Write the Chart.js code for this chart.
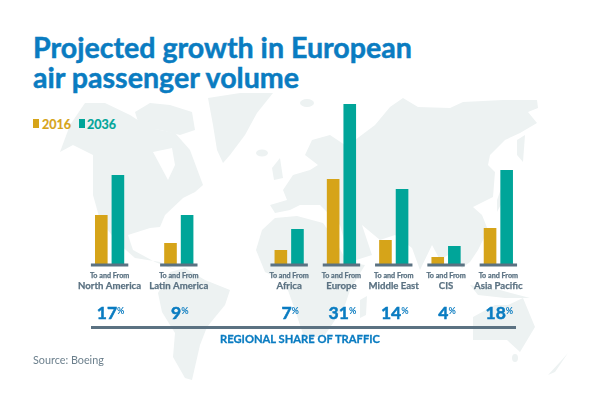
<!DOCTYPE html>
<html>
<head>
<meta charset="utf-8">
<script src="https://cdn.jsdelivr.net/npm/chart.js@4"></script>
<style>
body { margin: 0; background: #fff; font-family: Lato, sans-serif; }
#page { position: relative; width: 600px; height: 400px; overflow: hidden; }
#page > * { position: absolute; }
#map { left: 0; top: 0; }
#title { left: 33px; top: 32px; color: #0a7cc1; font-size: 28.6px; line-height: 30px; font-weight: 700; white-space: nowrap; -webkit-text-stroke: 0.5px #0a7cc1; }
.key { top: 117px; font-size: 12.5px; line-height: 16px; font-weight: 700; -webkit-text-stroke: 0.2px; }
.swatch { top: 119px; width: 6px; height: 9px; }
#source { left: 33px; top: 353px; font-size: 10.8px; line-height: 13px; color: #6b7f8c; }
#share { left: 91px; width: 425px; top: 326px; height: 3px; background: #5b7282; }
#shareLabel { left: 91px; width: 418px; top: 330px; text-align: center; font-size: 11.2px; line-height: 17px; font-weight: 700; color: #0a7cc1; -webkit-text-stroke: 0.3px #0a7cc1; }
</style>
</head>
<body>
<div id="page">
  <svg id="map" width="600" height="400" fill="#edf2f2">
    <path fill-rule="evenodd" d="M60 152L70 125L85 103L105 103L130 115L150 128L175 133L190 150L203 185L195 192L183 198L165 215L160 227L150 228L128 235L133 250L155 262L176 270L160 262L135 258L118 243L100 220L93 195L93 155L73 145Z M153 152L172 148L175 165L168 180L160 165Z"/>
    <path d="M135 112L150 103L170 105L192 112L195 130L180 135L160 130L140 128Z"/>
    <path d="M208 98L240 93L273 93L257 113L245 135L230 155L223 163L217 150L213 125Z"/>
    <path d="M158 293L170 272L185 268L205 280L230 290L225 305L207 327L200 345L192 380L185 378L173 357L175 333L162 312Z"/>
    <path d="M256 250L262 230L275 218L297 216L323 223L335 240L347 262L365 265L350 290L345 305L325 335L305 340L295 310L285 282L265 272Z"/>
    <path d="M287 200L283 190L293 175L310 170L318 165L305 155L312 140L330 135L345 145L352 150L355 140L375 125L390 107L403 98L418 107L450 108L463 102L503 100L537 100L538 108L528 112L537 123L520 133L505 140L490 155L488 165L495 172L493 197L473 207L482 215L488 230L478 250L470 262L462 268L455 260L448 255L440 260L432 245L420 270L412 248L395 235L380 240L362 225L372 255L350 262L340 225L330 215L320 205L300 205L290 210L275 213L270 205Z"/>
    <path d="M517 140L525 135L523 162L517 155Z"/>
    <path d="M473 317L495 305L508 305L523 298L535 327L520 352L507 340L473 340Z"/>
    <path d="M568 353L555 372L548 375L560 362Z"/>
    <path d="M360 300L367 296L366 315L360 318Z"/>
    <path d="M497 200L503 183L506 195L497 212Z"/>
    <path d="M470 285L500 290L530 298L505 298L478 295Z"/>
    <path d="M272 168L280 158L283 178L274 180Z"/>
    <ellipse cx="262" cy="153" rx="6" ry="3.5"/>
    <ellipse cx="307" cy="103" rx="7" ry="4"/>
    <ellipse cx="515" cy="358" rx="3" ry="4"/>
  </svg>
  <div id="title">Projected growth in European<br>air passenger volume</div>
  <div class="swatch" style="left:33px;background:#d6a419"></div>
  <div class="key" style="left:42px;color:#d6a419">2016</div>
  <div class="swatch" style="left:79px;background:#00a599"></div>
  <div class="key" style="left:87px;color:#00a599">2036</div>
  <div id="leftBox" style="left:74.7px;top:90px;width:138.4px;height:240px"><canvas id="left"></canvas></div>
  <div id="rightBox" style="left:262.85px;top:90px;width:261.5px;height:240px"><canvas id="right"></canvas></div>
  <div id="share"></div>
  <div id="shareLabel">REGIONAL SHARE OF TRAFFIC</div>
  <div id="source">Source: Boeing</div>
</div>
<script>
var regionsLeft = ['North America', 'Latin America'];
var values2016Left = [49, 21];
var values2036Left = [89, 49];
var sharesLeft = [17, 9];

var regionsRight = ['Africa', 'Europe', 'Middle East', 'CIS', 'Asia Pacific'];
var values2016Right = [14, 85, 24, 7, 36];
var values2036Right = [35, 160, 75, 18, 94];
var sharesRight = [7, 31, 14, 4, 18];

var slate = '#5b7282';

// baseline, region name and share under each pair of bars
var underBars = {
    id: 'underBars',
    afterDatasetsDraw: function (chart) {
        var ctx = chart.ctx;
        var x = chart.scales.x;
        var base = chart.scales.y.getPixelForValue(0);
        var shares = chart.options.plugins.underBars.shares;
        ctx.save();
        chart.data.labels.forEach(function (name, i) {
            var cx = x.getPixelForValue(i);
            ctx.fillStyle = slate;
            ctx.strokeStyle = slate;
            ctx.lineWidth = 0.25;
            ctx.fillRect(cx - 18.7, base - 0.5, 37.4, 3);

            ctx.textAlign = 'center';
            ctx.textBaseline = 'alphabetic';
            ctx.font = '700 7.2px Lato';
            ctx.fillText('To and From', cx, base + 14);
            ctx.strokeText('To and From', cx, base + 14);
            ctx.font = '700 9.6px Lato';
            ctx.fillText(name, cx, base + 25.3);
            ctx.strokeText(name, cx, base + 25.3);

            // percent sign is small and raised next to the number
            var num = String(shares[i]);
            ctx.font = '700 17.5px Lato';
            var w = ctx.measureText(num).width;
            ctx.font = '700 9px Lato';
            var pw = ctx.measureText('%').width;
            var left = cx - (w + pw) / 2 + 1;
            ctx.fillStyle = '#0a7cc1';
            ctx.strokeStyle = '#0a7cc1';
            ctx.lineWidth = 0.5;
            ctx.textAlign = 'left';
            ctx.font = '700 17.5px Lato';
            ctx.fillText(num, left, base + 55.3);
            ctx.strokeText(num, left, base + 55.3);
            ctx.font = '700 9px Lato';
            ctx.fillText('%', left + w, base + 50);
        });
        ctx.restore();
    }
};

function drawChart(id, labels, a, b, shares, catPct) {
    return new Chart(document.getElementById(id), {
        type: 'bar',
        data: {
            labels: labels,
            datasets: [
                { label: '2016', data: a, backgroundColor: '#d6a419', categoryPercentage: catPct, barPercentage: 0.76 },
                { label: '2036', data: b, backgroundColor: '#00a599', categoryPercentage: catPct, barPercentage: 0.76 }
            ]
        },
        options: {
            responsive: true,
            maintainAspectRatio: false,
            animation: false,
            layout: { padding: { bottom: 66 } },
            scales: {
                x: { display: false },
                y: { display: false, min: 0, max: 174 }
            },
            plugins: {
                legend: { display: false },
                tooltip: { enabled: false },
                underBars: { shares: shares }
            }
        },
        plugins: [underBars]
    });
}

drawChart('left', regionsLeft, values2016Left, values2036Left, sharesLeft, 0.48);
drawChart('right', regionsRight, values2016Right, values2036Right, sharesRight, 0.635);
</script>
</body>
</html>
